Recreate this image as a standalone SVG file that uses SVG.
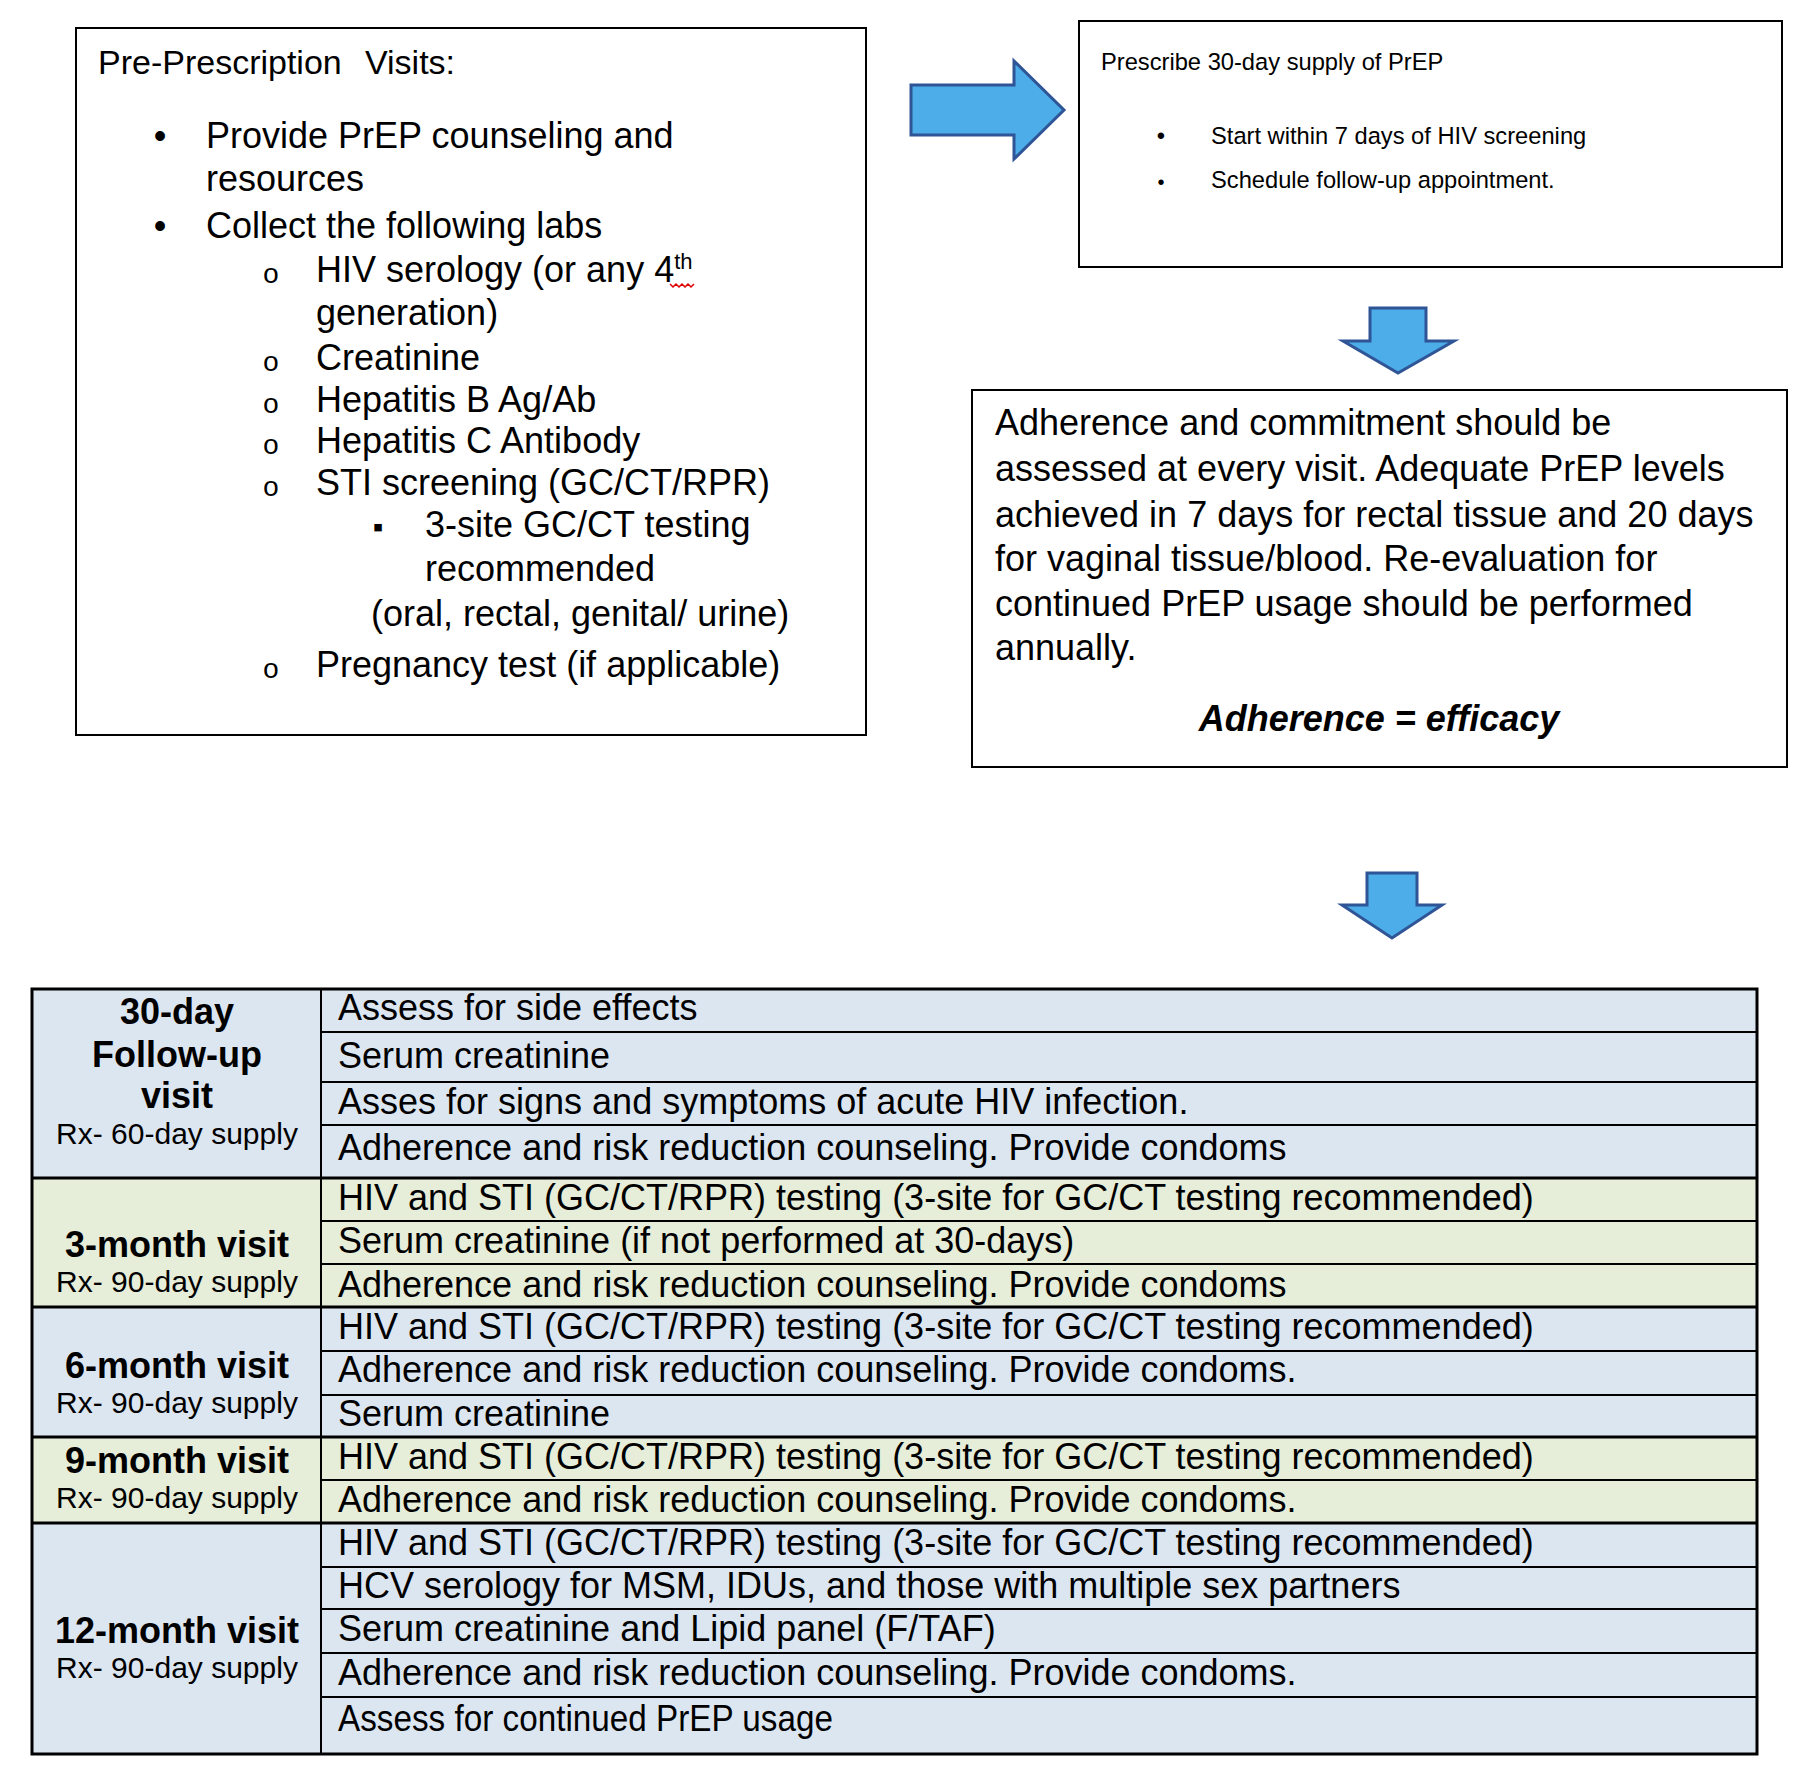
<svg xmlns="http://www.w3.org/2000/svg" width="1804" height="1778" viewBox="0 0 1804 1778">
<style>
.t{font-family:"Liberation Sans",Arial,sans-serif;fill:#000}
.m{font-family:"Liberation Mono","Courier New",monospace;fill:#000}
.s36{font-size:36px}
.s34{font-size:34px}
.s30{font-size:30px}
.s28{font-size:28px}
.s24{font-size:23.7px}
.bd{font-weight:bold}
.box{fill:#fff;stroke:#000;stroke-width:2}
.arrow{fill:#4DADE8;stroke:#2F5597;stroke-width:3;stroke-linejoin:miter}
.blue{fill:#DCE6F1}
.green{fill:#E6EDD9}
.ln{stroke:#000;stroke-width:2;fill:none}
.gl{stroke:#000;stroke-width:3;fill:none}
.c{text-anchor:middle}
</style>
<rect width="1804" height="1778" fill="#fff"/>

<g id="pre-prescription">
<rect class="box" x="76" y="28" width="790" height="707"/>
<text class="t s34" x="98" y="74">Pre-Prescription</text>
<text class="t s34" x="365" y="74">Visits:</text>
<text class="t s36 c" x="160" y="148">•</text>
<text class="t s36" x="206" y="148">Provide PrEP counseling and</text>
<text class="t s36" x="206" y="191">resources</text>
<text class="t s36 c" x="160" y="238">•</text>
<text class="t s36" x="206" y="238">Collect the following labs</text>
<text class="m s28 c" x="271" y="283">o</text>
<text class="t s36" x="316" y="282">HIV serology (or any 4<tspan font-size="22" dy="-13">th</tspan></text>
<path d="M670,284 l3,3 l3,-3 l3,3 l3,-3 l3,3 l3,-3 l3,3 l3,-3" fill="none" stroke="#E00000" stroke-width="1.5"/>
<text class="t s36" x="316" y="325">generation)</text>
<text class="m s28 c" x="271" y="371">o</text>
<text class="t s36" x="316" y="370">Creatinine</text>
<text class="m s28 c" x="271" y="413">o</text>
<text class="t s36" x="316" y="412">Hepatitis B Ag/Ab</text>
<text class="m s28 c" x="271" y="454">o</text>
<text class="t s36" x="316" y="453">Hepatitis C Antibody</text>
<text class="m s28 c" x="271" y="496">o</text>
<text class="t s36" x="316" y="495">STI screening (GC/CT/RPR)</text>
<text class="t s30 c" x="378" y="537">▪</text>
<text class="t s36" x="425" y="537">3-site GC/CT testing</text>
<text class="t s36" x="425" y="581">recommended</text>
<text class="t s36" x="371" y="626">(oral, rectal, genital/ urine)</text>
<text class="m s28 c" x="271" y="678">o</text>
<text class="t s36" x="316" y="677">Pregnancy test (if applicable)</text>
</g>

<g id="prescribe">
<rect class="box" x="1079" y="21" width="703" height="246"/>
<text class="t s24" x="1101" y="70">Prescribe 30-day supply of PrEP</text>
<text class="t s24 c" x="1161" y="144">•</text>
<text class="t s24" x="1211" y="144">Start within 7 days of HIV screening</text>
<text class="t c" font-size="20" x="1161" y="189">•</text>
<text class="t s24" x="1211" y="188">Schedule follow-up appointment.</text>
</g>

<g id="adherence">
<rect class="box" x="972" y="390" width="815" height="377"/>
<text class="t s36" x="995" y="435">Adherence and commitment should be</text>
<text class="t s36" x="995" y="481">assessed at every visit. Adequate PrEP levels</text>
<text class="t s36" x="995" y="527">achieved in 7 days for rectal tissue and 20 days</text>
<text class="t s36" x="995" y="571">for vaginal tissue/blood. Re-evaluation for</text>
<text class="t s36" x="995" y="616">continued PrEP usage should be performed</text>
<text class="t s36" x="995" y="660">annually.</text>
<text class="t s36 bd c" x="1379" y="731" font-style="italic">Adherence = efficacy</text>
</g>

<g id="connectors">
<polygon class="arrow" points="911,85 1014,85 1014,61 1064,110 1014,159 1014,135 911,135"/>
<polygon class="arrow" points="1370,308 1426,308 1426,341 1454,341 1398,373 1343,341 1370,341"/>
<polygon class="arrow" points="1367,873 1417,873 1417,905 1442,905 1392,938 1342,905 1367,905"/>
</g>

<g id="schedule-table">
<g id="visit-30day">
<rect class="blue" x="32" y="989" width="1725" height="189"/>
<text class="t s36 bd c" x="177" y="1024">30-day</text>
<text class="t s36 bd c" x="177" y="1067">Follow-up</text>
<text class="t s36 bd c" x="177" y="1108">visit</text>
<text class="t s30 c" x="177" y="1144">Rx- 60-day supply</text>
<text class="t s36" x="338" y="1020">Assess for side effects</text>
<text class="t s36" x="338" y="1068">Serum creatinine</text>
<text class="t s36" x="338" y="1114">Asses for signs and symptoms of acute HIV infection.</text>
<text class="t s36" x="338" y="1160">Adherence and risk reduction counseling. Provide condoms</text>
</g>
<g id="visit-3month">
<rect class="green" x="32" y="1178" width="1725" height="129"/>
<text class="t s36 bd c" x="177" y="1257">3-month visit</text>
<text class="t s30 c" x="177" y="1292">Rx- 90-day supply</text>
<text class="t s36" x="338" y="1210">HIV and STI (GC/CT/RPR) testing (3-site for GC/CT testing recommended)</text>
<text class="t s36" x="338" y="1253">Serum creatinine (if not performed at 30-days)</text>
<text class="t s36" x="338" y="1297">Adherence and risk reduction counseling. Provide condoms</text>
</g>
<g id="visit-6month">
<rect class="blue" x="32" y="1307" width="1725" height="130"/>
<text class="t s36 bd c" x="177" y="1378">6-month visit</text>
<text class="t s30 c" x="177" y="1413">Rx- 90-day supply</text>
<text class="t s36" x="338" y="1339">HIV and STI (GC/CT/RPR) testing (3-site for GC/CT testing recommended)</text>
<text class="t s36" x="338" y="1382">Adherence and risk reduction counseling. Provide condoms.</text>
<text class="t s36" x="338" y="1426">Serum creatinine</text>
</g>
<g id="visit-9month">
<rect class="green" x="32" y="1437" width="1725" height="86"/>
<text class="t s36 bd c" x="177" y="1473">9-month visit</text>
<text class="t s30 c" x="177" y="1508">Rx- 90-day supply</text>
<text class="t s36" x="338" y="1469">HIV and STI (GC/CT/RPR) testing (3-site for GC/CT testing recommended)</text>
<text class="t s36" x="338" y="1512">Adherence and risk reduction counseling. Provide condoms.</text>
</g>
<g id="visit-12month">
<rect class="blue" x="32" y="1523" width="1725" height="231"/>
<text class="t s36 bd c" x="177" y="1643">12-month visit</text>
<text class="t s30 c" x="177" y="1678">Rx- 90-day supply</text>
<text class="t s36" x="338" y="1555">HIV and STI (GC/CT/RPR) testing (3-site for GC/CT testing recommended)</text>
<text class="t s36" x="338" y="1598">HCV serology for MSM, IDUs, and those with multiple sex partners</text>
<text class="t s36" x="338" y="1641">Serum creatinine and Lipid panel (F/TAF)</text>
<text class="t s36" x="338" y="1685">Adherence and risk reduction counseling. Provide condoms.</text>
<text class="t s36" x="338" y="1731" textLength="495" lengthAdjust="spacingAndGlyphs">Assess for continued PrEP usage</text>
</g>
<g id="table-lines">
<path class="ln" d="M321,1032H1757M321,1082H1757M321,1125H1757M321,1221H1757M321,1264H1757M321,1351H1757M321,1395H1757M321,1480H1757M321,1567H1757M321,1609H1757M321,1653H1757M321,1697H1757"/>
<path class="gl" d="M32,1178H1757M32,1307H1757M32,1437H1757M32,1523H1757"/>
<path class="ln" d="M321,989V1754"/>
<rect x="32" y="989" width="1725" height="765" fill="none" stroke="#000" stroke-width="3"/>
</g>
</g>
</svg>
